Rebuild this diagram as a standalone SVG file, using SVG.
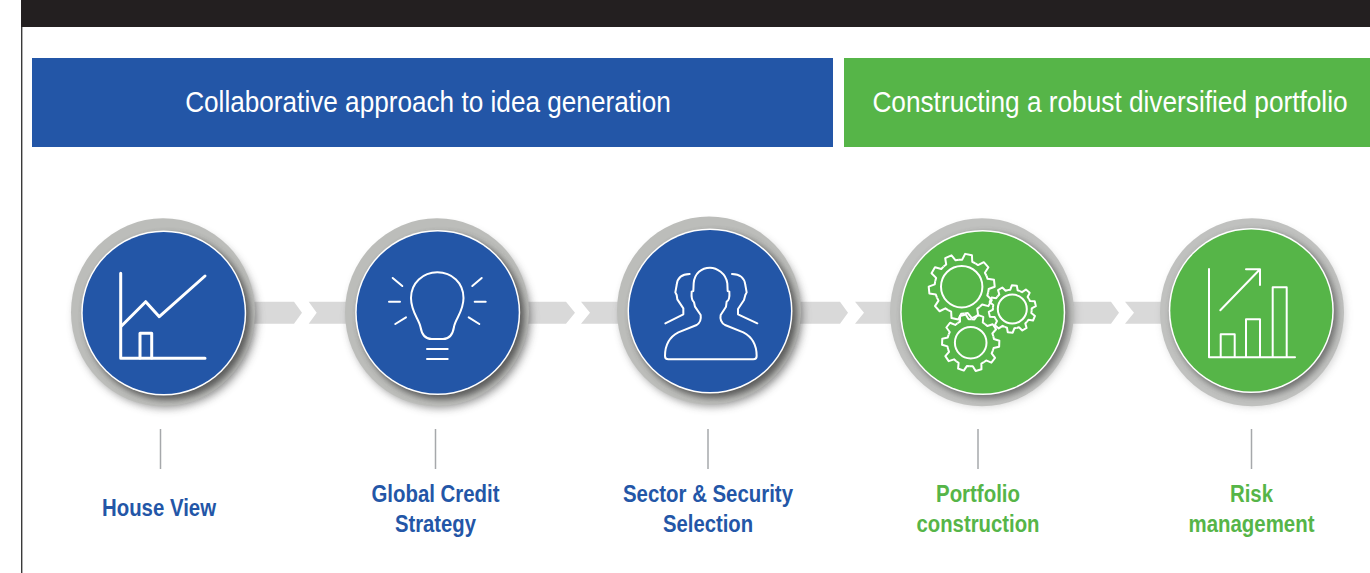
<svg xmlns="http://www.w3.org/2000/svg" xmlns:xlink="http://www.w3.org/1999/xlink" width="1370" height="573" viewBox="0 0 1370 573">
<style>
.ban{font:30px "Liberation Sans",Arial,sans-serif;fill:#fff;text-anchor:middle}
.lab{font:bold 23px "Liberation Sans",Arial,sans-serif;text-anchor:middle}
.b{fill:#2356a7}.g{fill:#56b548}
.ring{fill:#bcbdba}
.ic{fill:none;stroke:#fff;stroke-width:2;stroke-linejoin:round;stroke-linecap:round}
.gr{vector-effect:non-scaling-stroke;fill:none;stroke:#fff;stroke-width:2;stroke-linejoin:round}
.chev{fill:#d9d9d9}
.div{stroke:#a6a8ab;stroke-width:1.5}
</style>
<defs>
<filter id="bl" x="-20%" y="-20%" width="140%" height="140%"><feGaussianBlur stdDeviation="4"/></filter>
<filter id="bs" x="-20%" y="-20%" width="140%" height="140%"><feGaussianBlur stdDeviation="3"/></filter>
<g id="ring-blue">
<circle cx="3" cy="5" r="91" fill="#4a4a4a" opacity=".55" filter="url(#bl)"/>
<ellipse rx="92" ry="94" class="ring"/>
</g>
<g id="ring-green">
<circle cx="2" cy="3" r="91" fill="#4a4a4a" opacity=".25" filter="url(#bl)"/>
<ellipse rx="92" ry="94" fill="#c0c1bf"/>
</g>
<g id="rim-blue">
<circle cx="4" cy="4" r="83" fill="#3c3c3c" opacity=".75" filter="url(#bs)"/>
<circle r="82.5" fill="#fff"/>
</g>
<g id="rim-green">
<circle cx="3" cy="3" r="83" fill="#3c3c3c" opacity=".6" filter="url(#bs)"/>
<circle r="82.5" fill="#fff"/>
</g>
<path id="tooth" class="gr" d="M-25.3-78L-15.6-80.5L-10.5-99.5L10.5-99.5L15.6-80.5L25.3-78"/>
<g id="gear">
<use xlink:href="#tooth"/><use xlink:href="#tooth" transform="rotate(36)"/><use xlink:href="#tooth" transform="rotate(72)"/><use xlink:href="#tooth" transform="rotate(108)"/><use xlink:href="#tooth" transform="rotate(144)"/><use xlink:href="#tooth" transform="rotate(180)"/><use xlink:href="#tooth" transform="rotate(216)"/><use xlink:href="#tooth" transform="rotate(252)"/><use xlink:href="#tooth" transform="rotate(288)"/><use xlink:href="#tooth" transform="rotate(324)"/>
</g>
</defs>
<rect width="1370" height="573" fill="#fff"/>
<g id="frame">
<rect x="21" y="0" width="1349" height="27" fill="#231f20"/>
<rect x="21" y="27" width="1.4" height="546" fill="#3a3a3a"/>
</g>
<g id="banner-blue"><rect x="32" y="58" width="801" height="89" class="b"/>
<text class="ban" transform="translate(428 112) scale(.88 1)" textLength="552" lengthAdjust="spacingAndGlyphs">Collaborative approach to idea generation</text></g>
<g id="banner-green"><rect x="844" y="58" width="526" height="89" class="g"/>
<text class="ban" transform="translate(1110 112) scale(.88 1)" textLength="540" lengthAdjust="spacingAndGlyphs">Constructing a robust diversified portfolio</text></g>
<g id="connectors">
<path class="chev" d="M230 301.7H294L302 312.7L294 323.7H230Z"/>
<path class="chev" d="M308.7 301.7H566L575 312.7L566 323.7H308.7L316.7 312.7Z"/>
<path class="chev" d="M581 301.7H840L848 312.7L840 323.7H581L590 312.7Z"/>
<path class="chev" d="M855 301.7H1111L1119 312.7L1111 323.7H855L864 312.7Z"/>
<path class="chev" d="M1125 301.7H1190V323.7H1125L1134 312.7Z"/>
</g>
<g id="node-house-view">
<use xlink:href="#ring-blue" transform="translate(163 312.3)"/>
<use xlink:href="#rim-blue" transform="translate(163.7 313)"/>
<circle cx="163.7" cy="313" r="81" class="b"/>
<g class="ic" style="stroke-width:3">
<path d="M120.7 273.3V358.3H205"/><path d="M121.7 325.7L145.7 301.7L159.3 316.7L205 276"/><path d="M140 358V333.3H151.7V358"/>
</g>
<line class="div" x1="160.5" y1="429" x2="160.5" y2="469"/>
<text class="lab b" x="159" y="516" textLength="114" lengthAdjust="spacingAndGlyphs">House View</text>
</g>
<g id="node-global-credit">
<use xlink:href="#ring-blue" transform="translate(437 312.3)"/>
<use xlink:href="#rim-blue" transform="translate(437.7 312.5)"/>
<circle cx="437.7" cy="312.5" r="81" class="b"/>
<g class="ic">
<path d="M431.7 339C424 339 421.5 333 420.5 327C419 319 411 312 411 298C411 283 423 272.3 437.3 272.3C452 272.3 463.5 283 463.5 298C463.5 312 455 319 454 327C453 333 450 339 443 339Z"/>
<path d="M392.7 278L402.3 286M389 301.7H400M395.3 324L406 317.3M481.7 278L472.3 286M474.7 301.7H485.7M468.7 317.3L479.3 324M427 349H447.7M427 359H447.7"/>
</g>
<line class="div" x1="435.5" y1="429" x2="435.5" y2="469"/>
<text class="lab b" x="435.5" y="502" textLength="128" lengthAdjust="spacingAndGlyphs">Global Credit</text>
<text class="lab b" x="435.5" y="532" textLength="81" lengthAdjust="spacingAndGlyphs">Strategy</text>
</g>
<g id="node-sector-security">
<use xlink:href="#ring-blue" transform="translate(709 310.5)"/>
<use xlink:href="#rim-blue" transform="translate(710 311)"/>
<circle cx="710" cy="311" r="81" class="b"/>
<g class="ic" transform="translate(600 205) scale(.33333)" style="stroke-width:6">
<path d="M205 463H460Q470 463 470 453C470 420 455 395 430 382L375 360Q358 350 362 330L378 305L380 290Q390 285 388 260L383 258L382 235C378 205 350 188 330 188C305 188 283 205 281 235L280 258L275 260Q273 285 282 292L285 305L302 330Q305 350 290 360L235 382C210 395 195 420 195 453Q195 463 205 463Z"/>
<path d="M196 355L250 328V310L232 283L230 270L226 262L230 240C232 220 245 207 269 207"/>
<path d="M472 355L414 328V312L432 285L436 270L440 262L436 240C434 220 420 207 396 207"/>
</g>
<line class="div" x1="708" y1="429" x2="708" y2="469"/>
<text class="lab b" x="708" y="502" textLength="170" lengthAdjust="spacingAndGlyphs">Sector &amp; Security</text>
<text class="lab b" x="708" y="532" textLength="90" lengthAdjust="spacingAndGlyphs">Selection</text>
</g>
<g id="node-portfolio-construction">
<use xlink:href="#ring-green" transform="translate(982 312.3)"/>
<use xlink:href="#rim-green" transform="translate(982.7 312.5)"/>
<circle cx="982.7" cy="312.5" r="81" class="g"/>
<use xlink:href="#gear" transform="translate(961.7 286.7) rotate(12) scale(.33)"/>
<circle cx="961.7" cy="286.7" r="20.7" class="ic"/>
<use xlink:href="#gear" transform="translate(1012.3 309) rotate(5) scale(.237)"/>
<circle cx="1012.3" cy="309" r="14.5" class="ic"/>
<use xlink:href="#gear" transform="translate(970.7 342.7) rotate(20) scale(.287)"/>
<circle cx="970.7" cy="342.7" r="15.8" class="ic"/>
<line class="div" x1="978" y1="429" x2="978" y2="469"/>
<text class="lab g" x="978" y="502" textLength="84" lengthAdjust="spacingAndGlyphs">Portfolio</text>
<text class="lab g" x="978" y="532" textLength="123" lengthAdjust="spacingAndGlyphs">construction</text>
</g>
<g id="node-risk-management">
<use xlink:href="#ring-green" transform="translate(1252 312.3)"/>
<use xlink:href="#rim-green" transform="translate(1251.3 310.5)"/>
<circle cx="1251.3" cy="310.5" r="81" class="g"/>
<g class="ic">
<path d="M1209 269V357.3H1295"/><path d="M1220.3 310.3L1260 269.3M1246 269.3H1260V285"/>
<path d="M1220.7 357V334.3H1234.7V357M1246 357V319.3H1260V357M1272.7 357V287.3H1286.7V357"/>
</g>
<line class="div" x1="1251.5" y1="429" x2="1251.5" y2="469"/>
<text class="lab g" x="1251.5" y="502" textLength="43" lengthAdjust="spacingAndGlyphs">Risk</text>
<text class="lab g" x="1251.5" y="532" textLength="126" lengthAdjust="spacingAndGlyphs">management</text>
</g>
</svg>
